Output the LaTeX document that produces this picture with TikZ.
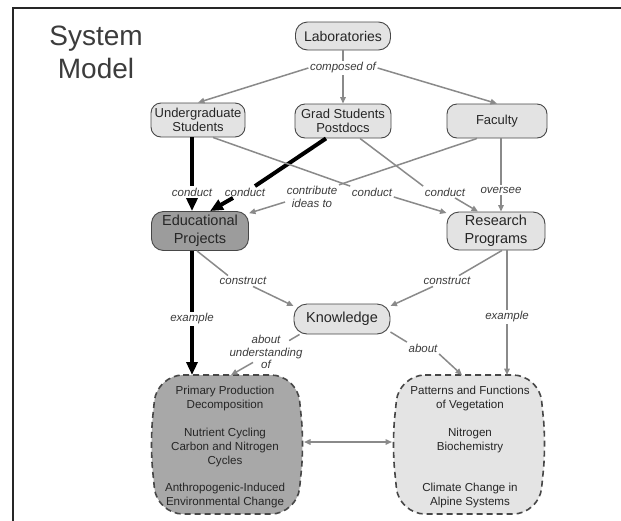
\documentclass[tikz,border=0pt]{standalone}
\usepackage{fontspec}
\setmainfont{Liberation Sans}
\usetikzlibrary{arrows.meta,calc}
\definecolor{lgray}{HTML}{E3E3E3}
\definecolor{dgray}{HTML}{9C9C9C}
\definecolor{bgray}{HTML}{A8A8A8}
\definecolor{rgray}{HTML}{E4E4E4}
\definecolor{linegray}{HTML}{8A8A8A}
\definecolor{ink}{HTML}{262626}
\begin{document}
\begin{tikzpicture}[x=1pt,y=-1pt,
  cnode/.style={draw=ink!85, line width=0.9pt, rounded corners=10pt, fill=lgray, align=center, text=ink, inner sep=2pt},
  bigfont/.style={font=\fontsize{14.5}{18}\selectfont},
  midfont/.style={font=\fontsize{13}{14}\selectfont},
  boxtext/.style={font=\fontsize{11.6}{14}\selectfont, text=ink, align=center, inner sep=1pt},
  lbl/.style={font=\fontsize{11.5}{12.5}\selectfont\itshape, text=ink!90, align=center, inner sep=1.5pt},
  glink/.style={draw=linegray, line width=1.5pt},
  garrow/.style={glink, -{Triangle[length=6.5pt,width=5.5pt]}},
  heavy/.style={draw=black, line width=4pt},
  harrow/.style={heavy, -{Triangle[length=13pt,width=11pt]}},
  bigbox/.style={draw=ink!85, line width=1.6pt, dash pattern=on 6pt off 4pt, rounded corners=26pt}
]
\useasboundingbox (0,0) rectangle (621,520);
\fill[white] (0,0) rectangle (621,520);
% frame
\draw[ink, line width=2.5pt] (13,521) -- (13,8) -- (622,8);

% title
\node[font=\fontsize{28}{33}\selectfont, text=ink!90, anchor=base] (title1) at (96,45) {System};
\node[font=\fontsize{28}{33}\selectfont, text=ink!90, anchor=base] (title2) at (96,78) {Model};

% big boxes
\path[bigbox, fill=bgray] (157,375) -- (297,375) -- (304,444) -- (297,514) -- (157,514) -- (150,444) -- cycle;
\path[bigbox, fill=rgray] (399,375) -- (539,375) -- (546,444) -- (539,514) -- (399,514) -- (392,444) -- cycle;
\coordinate (lbtop) at (227,375);
\coordinate (lbin) at (231,375);
\coordinate (rbtop) at (469,375);
\coordinate (rbab) at (462,375);
\coordinate (lbR) at (304,442);
\coordinate (rbL) at (392,442);

\node[boxtext] (l1) at (225,398) {Primary Production\\Decomposition};
\node[boxtext] (l2) at (225,447) {Nutrient Cycling\\Carbon and Nitrogen\\Cycles};
\node[boxtext] (l3) at (225,495) {Anthropogenic-Induced\\Environmental Change};
\node[boxtext] (r1) at (470,398) {Patterns and Functions\\of Vegetation};
\node[boxtext] (r2) at (470,440) {Nitrogen\\Biochemistry};
\node[boxtext] (r3) at (470,495) {Climate Change in\\Alpine Systems};

% concept nodes
\node[cnode, font=\fontsize{14}{16}\selectfont, minimum width=95pt, minimum height=28pt, rounded corners=12pt] (lab) at (343,36) {Laboratories};
\node[cnode, midfont, minimum width=94pt, minimum height=34pt] (ug) at (198,120) {Undergraduate\\Students};
\node[cnode, midfont, minimum width=96pt, minimum height=34pt] (grad) at (343,121) {Grad Students\\Postdocs};
\node[cnode, midfont, minimum width=100pt, minimum height=34pt] (fac) at (497,121) {Faculty};
\node[cnode, bigfont, fill=dgray, minimum width=97pt, minimum height=39pt, rounded corners=12pt] (edu) at (200,231) {Educational\\Projects};
\node[cnode, bigfont, minimum width=98pt, minimum height=38pt, rounded corners=12pt] (res) at (496,231) {Research\\Programs};
\node[cnode, bigfont, minimum width=96pt, minimum height=30pt, rounded corners=13pt] (know) at (342,319) {Knowledge};

% labels
\node[lbl] (composed) at (343,68) {composed of};
\node[lbl] (cd1) at (192,192) {conduct};
\node[lbl] (cd2) at (245,192) {conduct};
\node[lbl] (ctr) at (312,197) {contribute\\ideas to};
\node[lbl] (cd3) at (372,192) {conduct};
\node[lbl] (cd4) at (445,192) {conduct};
\node[lbl] (ovs) at (501,190) {oversee};
\node[lbl] (cs1) at (243,281) {construct};
\node[lbl] (cs2) at (447,281) {construct};
\node[lbl] (ex1) at (192,319) {example};
\node[lbl] (ex2) at (507,317) {example};
\node[lbl] (aun) at (266,352) {about\\understanding\\of};
\node[lbl] (ab) at (423,348) {about};

% connectors
\draw[glink] (lab.south) -- (composed.north);
\draw[garrow] (composed.west) -- (ug.north);
\draw[garrow] (composed.south) -- (grad.north);
\draw[garrow] (composed.east) -- (fac.north);

\draw[heavy] (ug.south -| cd1.north) -- (cd1.north);
\draw[harrow] (cd1.south) -- (cd1.south |- edu.north);

\draw[heavy] ([xshift=-17pt]grad.south) -- ([xshift=10pt]cd2.north);
\draw[harrow] ([xshift=-12pt]cd2.south) -- ([xshift=10pt]edu.north);

\draw[glink] ([xshift=-20pt]fac.south) -- (ctr.north east);
\draw[garrow] ([yshift=-5pt]ctr.west) -- (edu.20);

\draw[glink] ([xshift=15pt]ug.south) -- (cd3.north west);
\draw[garrow] ([yshift=-5pt]cd3.east) -- (res.160);

\draw[glink] ([xshift=17pt]grad.south) -- (cd4.north west);
\draw[garrow] ([xshift=10pt]cd4.south) -- ([xshift=-18pt]res.north);

\draw[glink] (fac.south -| ovs.north) -- (ovs.north);
\draw[garrow] (ovs.south) -- (ovs.south |- res.north);

\draw[glink] ([xshift=-3pt]edu.south) -- ([xshift=10pt]cs1.north west);
\draw[garrow] ([xshift=10pt]cs1.south) -- (know.165);

\draw[glink] ([xshift=6pt]res.south) -- ([xshift=12pt]cs2.north);
\draw[garrow] ([xshift=-14pt]cs2.south) -- (know.15);

\draw[heavy] (edu.south -| ex1.north) -- (ex1.north);
\draw[harrow] (ex1.south) -- (ex1.south |- lbtop);

\draw[glink] (res.south -| ex2.north) -- (ex2.north);
\draw[garrow] (ex2.south) -- (ex2.south |- rbtop);

\draw[glink] (know.200) -- ($(aun.north east)+(-15,7)$);
\draw[garrow] ($(aun.south)+(-13,-8)$) -- (lbin);

\draw[glink] (know.345) -- (ab.north west);
\draw[garrow] (ab.south east) -- (rbab);

\draw[glink, {Triangle[length=6.5pt,width=5.5pt]}-{Triangle[length=6.5pt,width=5.5pt]}] (lbR) -- (rbL);
\end{tikzpicture}
\end{document}
